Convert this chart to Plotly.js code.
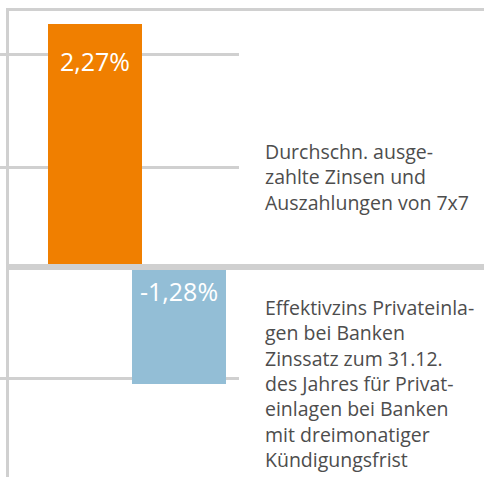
<!DOCTYPE html>
<html>
<head>
<meta charset="utf-8">
<script src="https://cdn.plot.ly/plotly-3.0.1.min.js"></script>
<style>
  html, body { margin: 0; padding: 0; background: #ffffff; }
  #chart { width: 484px; height: 477px; }
</style>
</head>
<body>
<div id="chart"></div>
<script>
// ---- data ----
const categories = ["7x7", "Privateinlagen"];
const values = [2.27, -1.28];
const valueLabels = ["2,27%", "-1,28%"];
const colors = ["#f07f00", "#93bed6"];
const descriptions = [
  "Durchschn. ausge-<br>zahlte Zinsen und<br>Auszahlungen von 7x7",
  "Effektivzins Privateinla-<br>gen bei Banken<br>Zinssatz zum 31.12.<br>des Jahres für Privat-<br>einlagen bei Banken<br>mit dreimonatiger<br>Kündigungsfrist"
];

// ---- layout geometry (pixels) ----
const W = 484, H = 477;
const zeroPx = 267;          // y pixel of the zero line
const orangeTopPx = 24;      // pixel of top of first bar
const blueBottomPx = 384;    // pixel of bottom of second bar
const s1 = (zeroPx - orangeTopPx) / values[0];        // px per unit, axis y
const s2 = (blueBottomPx - zeroPx) / -values[1];      // px per unit, axis y2
const plotRightPx = 239;
const barCentersPx = [95, 179];
const barWidthPx = 94;
const xUnit = barCentersPx[1] - barCentersPx[0];
const xRange = [-barCentersPx[0] / xUnit, (plotRightPx - barCentersPx[0]) / xUnit];
const gridPx = [54.5, 167, 378.5];
const gridVals = gridPx.map(p => (zeroPx - p) / s1);

const px2paperX = p => p / W;
const px2paperY = p => 1 - p / H;

const lineColor = "#d0d0d0";
const fontFam = "'Open Sans', 'Noto Sans', sans-serif";

const traces = [
  {
    type: "bar", x: [categories[0]], y: [values[0]],
    marker: { color: colors[0], line: { width: 0 } },
    width: barWidthPx / xUnit, xaxis: "x", yaxis: "y",
    hoverinfo: "skip", showlegend: false
  },
  {
    type: "bar", x: [categories[1]], y: [values[1]],
    marker: { color: colors[1], line: { width: 0 } },
    width: barWidthPx / xUnit, xaxis: "x", yaxis: "y2",
    hoverinfo: "skip", showlegend: false
  }
];

const layout = {
  width: W, height: H,
  margin: { l: 0, r: 0, t: 0, b: 0, pad: 0 },
  paper_bgcolor: "#ffffff", plot_bgcolor: "rgba(0,0,0,0)",
  showlegend: false,
  font: { family: fontFam },
  xaxis: {
    type: "category", categoryarray: categories,
    domain: [0, px2paperX(plotRightPx)], range: xRange,
    showgrid: false, zeroline: false, showticklabels: false,
    ticks: "", showline: false, fixedrange: true
  },
  yaxis: {
    range: [-(H - zeroPx) / s1, zeroPx / s1],
    tickmode: "array", tickvals: gridVals,
    showgrid: true, gridcolor: lineColor, gridwidth: 3,
    zeroline: false, showticklabels: false, ticks: "", showline: false,
    fixedrange: true
  },
  yaxis2: {
    overlaying: "y",
    range: [-(H - zeroPx) / s2, zeroPx / s2],
    showgrid: false, zeroline: false, showticklabels: false, ticks: "",
    showline: false, fixedrange: true
  },
  shapes: [
    // zero line (drawn over bars)
    { type: "line", layer: "above", xref: "paper", yref: "y",
      x0: px2paperX(6), x1: 1, y0: 0, y1: 0,
      line: { color: lineColor, width: 6 } },
    // top frame line
    { type: "line", layer: "above", xref: "paper", yref: "paper",
      x0: px2paperX(6), x1: 1, y0: px2paperY(9.5), y1: px2paperY(9.5),
      line: { color: lineColor, width: 3 } },
    // left frame line
    { type: "line", layer: "above", xref: "paper", yref: "paper",
      x0: px2paperX(7.5), x1: px2paperX(7.5), y0: px2paperY(8), y1: 0,
      line: { color: lineColor, width: 3 } }
  ],
  annotations: [
    { xref: "x", yref: "y", x: categories[0], y: values[0],
      yanchor: "middle", xanchor: "center", yshift: -37,
      text: valueLabels[0], showarrow: false,
      font: { family: fontFam, size: 25, color: "#ffffff" } },
    { xref: "x", yref: "y2", x: categories[1], y: 0,
      yanchor: "middle", xanchor: "center", yshift: -24,
      text: valueLabels[1], showarrow: false,
      font: { family: fontFam, size: 25, color: "#ffffff" } },
    { xref: "paper", yref: "paper", x: px2paperX(263), y: px2paperY(177),
      xanchor: "left", yanchor: "middle", align: "left",
      text: descriptions[0], showarrow: false,
      font: { family: fontFam, size: 19.5, color: "#4d4d4d" } },
    { xref: "paper", yref: "paper", x: px2paperX(263), y: px2paperY(383),
      xanchor: "left", yanchor: "middle", align: "left",
      text: descriptions[1], showarrow: false,
      font: { family: fontFam, size: 19.5, color: "#4d4d4d" } }
  ]
};

Plotly.newPlot("chart", traces, layout, { displayModeBar: false, staticPlot: true });
</script>
</body>
</html>
